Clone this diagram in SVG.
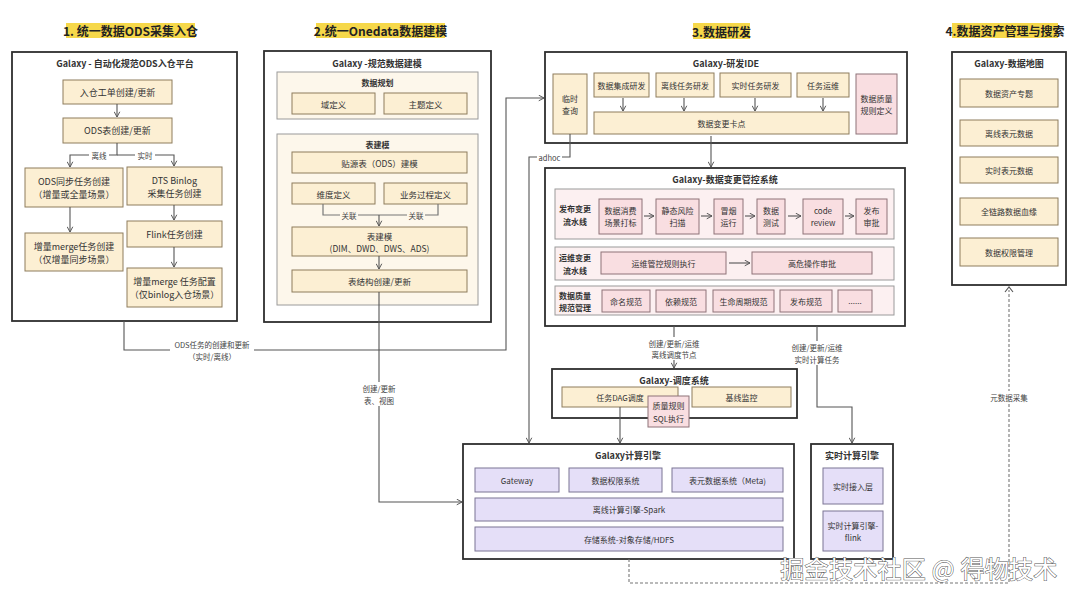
<svg xmlns="http://www.w3.org/2000/svg" width="1080" height="600" viewBox="0 0 1080 600">
<defs>
<marker id="ah" viewBox="0 0 10 10" refX="9" refY="5" markerWidth="7" markerHeight="7" orient="auto" markerUnits="userSpaceOnUse"><path d="M1.5,1 L9,5 L1.5,9" fill="none" stroke="#555" stroke-width="1.4"/></marker>
<style>
text{font-family:"Noto Sans CJK SC","Noto Sans",sans-serif;fill:#333;text-anchor:middle;dominant-baseline:central}
.hl{fill:#F6D84A}
.st{font-size:12px;font-weight:700;fill:#222}
.o{fill:#fff;stroke:#2e2e2e;stroke-width:1.8}
.y{fill:#FCEFD3;stroke:#8e7d5c;stroke-width:1}
.p{fill:#F9DEE1;stroke:#8e7378;stroke-width:1}
.l{fill:#E5DFF8;stroke:#7b7494;stroke-width:1}
.g{fill:#FDF7EB;stroke:#9a9a9a;stroke-width:1}
.pg{fill:#FCF0F1;stroke:#9a9a9a;stroke-width:1}
.c{fill:none;stroke:#777;stroke-width:1.2}
.a{fill:none;stroke:#555;stroke-width:1.1;marker-end:url(#ah)}
.d{fill:none;stroke:#777;stroke-width:1.1;stroke-dasharray:3 2}
.tt{font-size:9px;font-weight:700}
.gt{font-size:8px;font-weight:700}
.b9{font-size:9px}
.b8{font-size:8px}
.b85{font-size:8.5px}
.lb{font-size:7.5px;fill:#444}
.wb{fill:#fff}
</style>
</defs>

<g id="section1">
<rect class="hl" x="66" y="23" width="129" height="15"/>
<text class="st" x="130.5" y="30.5">1. 统一数据ODS采集入仓</text>
<rect class="o" x="12" y="52" width="225" height="269"/>
<text class="tt" x="125" y="63">Galaxy - 自动化规范ODS入仓平台</text>
<g id="n1-1"><rect class="y" x="63" y="80" width="109" height="24"/><text class="b9" x="117.5" y="92">入仓工单创建/更新</text></g>
<g id="n1-2"><rect class="y" x="63" y="118" width="109" height="25"/><text class="b9" x="117.5" y="130.5">ODS表创建/更新</text></g>
<g id="n1-3"><rect class="y" x="25" y="168" width="98" height="39"/><text class="b9" x="74" y="181.5">ODS同步任务创建</text><text class="b9" x="74" y="194.5">（增量或全量场景）</text></g>
<g id="n1-4"><rect class="y" x="127" y="167" width="95" height="38"/><text class="b9" x="174.5" y="180">DTS Binlog</text><text class="b9" x="174.5" y="193">采集任务创建</text></g>
<g id="n1-5"><rect class="y" x="25" y="233" width="98" height="38"/><text class="b9" x="74" y="246">增量merge任务创建</text><text class="b9" x="74" y="259">（仅增量同步场景）</text></g>
<g id="n1-6"><rect class="y" x="127" y="221" width="95" height="26"/><text class="b9" x="174.5" y="234">Flink任务创建</text></g>
<g id="n1-7"><rect class="y" x="127" y="268" width="95" height="39"/><text class="b9" x="174.5" y="281">增量merge 任务配置</text><text class="b9" x="174.5" y="294">（仅binlog入仓场景）</text></g>
</g>

<g id="section2">
<rect class="hl" x="316" y="23" width="129" height="15"/>
<text class="st" x="380.5" y="30.5">2.统一Onedata数据建模</text>
<rect class="o" x="264" y="51" width="227" height="271"/>
<text class="tt" x="377" y="63">Galaxy -规范数据建模</text>
<g id="grp-plan"><rect class="g" x="277" y="72" width="201" height="47"/><text class="gt" x="377.5" y="82">数据规划</text></g>
<g id="n2-1"><rect class="y" x="292" y="93" width="83" height="21"/><text class="b85" x="333.5" y="103.5">域定义</text></g>
<g id="n2-2"><rect class="y" x="384" y="93" width="83" height="21"/><text class="b85" x="425.5" y="103.5">主题定义</text></g>
<g id="grp-model"><rect class="g" x="277" y="134" width="201" height="171"/><text class="gt" x="377.5" y="144">表建模</text></g>
<g id="n2-3"><rect class="y" x="292" y="152" width="175" height="21"/><text class="b85" x="379.5" y="162.5">贴源表（ODS）建模</text></g>
<g id="n2-4"><rect class="y" x="292" y="183" width="83" height="21"/><text class="b85" x="333.5" y="193.5">维度定义</text></g>
<g id="n2-5"><rect class="y" x="384" y="183" width="83" height="21"/><text class="b85" x="425.5" y="193.5">业务过程定义</text></g>
<g id="n2-6"><rect class="y" x="292" y="227" width="175" height="29"/><text class="b85" x="379.5" y="236">表建模</text><text class="b85" x="379.5" y="248">(DIM、DWD、DWS、ADS)</text></g>
<g id="n2-7"><rect class="y" x="292" y="270" width="175" height="22"/><text class="b85" x="379.5" y="281">表结构创建/更新</text></g>
</g>

<g id="section3">
<rect class="hl" x="693" y="23" width="57" height="16"/>
<text class="st" x="721.5" y="31">3.数据研发</text>
<g id="ide">
<rect class="o" x="545" y="52" width="362" height="91"/>
<text class="tt" x="726" y="63">Galaxy-研发IDE</text>
<g id="n3-adhoc"><rect class="y" x="553" y="74" width="34" height="60"/><text class="b8" x="570" y="98">临时</text><text class="b8" x="570" y="110">查询</text></g>
<g id="n3-1"><rect class="y" x="594" y="73" width="55" height="24"/><text class="b8" x="621.5" y="85">数据集成研发</text></g>
<g id="n3-2"><rect class="y" x="656" y="73" width="58" height="24"/><text class="b8" x="685" y="85">离线任务研发</text></g>
<g id="n3-3"><rect class="y" x="720" y="73" width="71" height="24"/><text class="b8" x="755.5" y="85">实时任务研发</text></g>
<g id="n3-4"><rect class="y" x="797" y="73" width="52" height="24"/><text class="b8" x="823" y="85">任务运维</text></g>
<g id="n3-5"><rect class="y" x="594" y="112" width="255" height="22"/><text class="b8" x="721.5" y="123">数据变更卡点</text></g>
<g id="n3-6"><rect class="p" x="856" y="74" width="41" height="60"/><text class="b8" x="876.5" y="98">数据质量</text><text class="b8" x="876.5" y="110">规则定义</text></g>
</g>
<g id="change">
<rect class="o" x="545" y="168" width="360" height="158"/>
<text class="tt" x="725" y="179">Galaxy-数据变更管控系统</text>
<rect class="pg" x="555" y="189" width="339" height="50"/>
<text class="gt" x="575" y="208">发布变更</text><text class="gt" x="575" y="221">流水线</text>
<rect class="pg" x="555" y="247" width="339" height="33"/>
<text class="gt" x="575" y="257.5">运维变更</text><text class="gt" x="575" y="270">流水线</text>
<rect class="pg" x="555" y="286" width="339" height="29"/>
<text class="gt" x="575" y="295">数据质量</text><text class="gt" x="575" y="307">规范管理</text>
<g id="c1"><rect class="p" x="599" y="199" width="43" height="35"/><text class="b8" x="620.5" y="210.5">数据消费</text><text class="b8" x="620.5" y="222.5">场景打标</text></g>
<g id="c2"><rect class="p" x="656" y="199" width="43" height="35"/><text class="b8" x="677.5" y="210.5">静态风险</text><text class="b8" x="677.5" y="222.5">扫描</text></g>
<g id="c3"><rect class="p" x="714" y="199" width="29" height="35"/><text class="b8" x="728.5" y="210.5">冒烟</text><text class="b8" x="728.5" y="222.5">运行</text></g>
<g id="c4"><rect class="p" x="757" y="199" width="28" height="35"/><text class="b8" x="771" y="210.5">数据</text><text class="b8" x="771" y="222.5">测试</text></g>
<g id="c5"><rect class="p" x="803" y="199" width="40" height="35"/><text class="b8" x="823" y="210.5">code</text><text class="b8" x="823" y="222.5">review</text></g>
<g id="c6"><rect class="p" x="856" y="199" width="31" height="35"/><text class="b8" x="871.5" y="210.5">发布</text><text class="b8" x="871.5" y="222.5">审批</text></g>
<g id="c7"><rect class="p" x="601" y="252" width="125" height="22"/><text class="b8" x="663.5" y="263">运维管控规则执行</text></g>
<g id="c8"><rect class="p" x="752" y="252" width="120" height="22"/><text class="b8" x="812" y="263">高危操作审批</text></g>
<g id="c9"><rect class="p" x="602" y="290" width="48" height="22"/><text class="b8" x="626" y="301">命名规范</text></g>
<g id="c10"><rect class="p" x="656" y="290" width="50" height="22"/><text class="b8" x="681" y="301">依赖规范</text></g>
<g id="c11"><rect class="p" x="713" y="290" width="61" height="22"/><text class="b8" x="743.5" y="301">生命周期规范</text></g>
<g id="c12"><rect class="p" x="780" y="290" width="52" height="22"/><text class="b8" x="806" y="301">发布规范</text></g>
<g id="c13"><rect class="p" x="838" y="290" width="34" height="22"/><text class="b8" x="855" y="300">......</text></g>
</g>
<g id="sched">
<rect class="o" x="552" y="369" width="245" height="49"/>
<text class="tt" x="674" y="380">Galaxy-调度系统</text>
<g id="s1"><rect class="y" x="562" y="387" width="116" height="20"/><text class="b8" x="620" y="397">任务DAG调度</text></g>
<g id="s2"><rect class="y" x="692" y="387" width="99" height="20"/><text class="b8" x="741.5" y="397">基线监控</text></g>
<g id="s3"><rect class="p" x="648" y="396" width="41" height="31"/><text class="b8" x="668.5" y="405.5">质量规则</text><text class="b8" x="668.5" y="418">SQL执行</text></g>
</g>
<g id="engine">
<rect class="o" x="463" y="444" width="331" height="115"/>
<text class="tt" x="628" y="455">Galaxy计算引擎</text>
<g id="e1"><rect class="l" x="475" y="468" width="84" height="24"/><text class="b8" x="517" y="480">Gateway</text></g>
<g id="e2"><rect class="l" x="569" y="468" width="93" height="24"/><text class="b8" x="615.5" y="480">数据权限系统</text></g>
<g id="e3"><rect class="l" x="672" y="468" width="111" height="24"/><text class="b8" x="727.5" y="480">表元数据系统（Meta)</text></g>
<g id="e4"><rect class="l" x="475" y="498" width="308" height="23"/><text class="b8" x="629" y="509.5">离线计算引擎-Spark</text></g>
<g id="e5"><rect class="l" x="475" y="527" width="308" height="24"/><text class="b8" x="629" y="539">存储系统-对象存储/HDFS</text></g>
</g>
<g id="realtime">
<rect class="o" x="811" y="444" width="82" height="115"/>
<text class="tt" x="852" y="455">实时计算引擎</text>
<g id="r1"><rect class="l" x="823" y="468" width="60" height="36"/><text class="b8" x="853" y="486">实时接入层</text></g>
<g id="r2"><rect class="l" x="823" y="511" width="60" height="40"/><text class="b8" x="853" y="525">实时计算引擎-</text><text class="b8" x="853" y="537.5">flink</text></g>
</g>
</g>

<g id="section4">
<rect class="hl" x="952" y="23" width="106" height="15"/>
<text class="st" x="1005" y="30.5">4.数据资产管理与搜索</text>
<rect class="o" x="952" y="52" width="114" height="233"/>
<text class="tt" x="1009" y="63">Galaxy-数据地图</text>
<g id="m1"><rect class="y" x="960" y="79" width="98" height="28"/><text class="b8" x="1009" y="93">数据资产专题</text></g>
<g id="m2"><rect class="y" x="960" y="120" width="98" height="26"/><text class="b8" x="1009" y="133">离线表元数据</text></g>
<g id="m3"><rect class="y" x="960" y="157" width="98" height="26"/><text class="b8" x="1009" y="170">实时表元数据</text></g>
<g id="m4"><rect class="y" x="960" y="198" width="98" height="27"/><text class="b8" x="1009" y="211.5">全链路数据血缘</text></g>
<g id="m5"><rect class="y" x="960" y="238" width="98" height="28"/><text class="b8" x="1009" y="252">数据权限管理</text></g>
</g>

<g id="connectors">
<!-- section 1 -->
<path class="a" d="M117,104 V117"/>
<path class="a" d="M117,143 V155 H70 V167"/>
<path class="a" d="M117,155 H174 V166"/>
<path class="a" d="M70,207 V232"/>
<path class="a" d="M174,205 V220"/>
<path class="a" d="M174,247 V267"/>
<rect class="wb" x="89" y="150" width="20" height="10"/><text class="lb" x="99" y="155">离线</text>
<rect class="wb" x="135" y="150" width="20" height="10"/><text class="lb" x="145" y="155">实时</text>
<!-- section 2 -->
<path class="c" d="M323,204 V215 H438 V204"/>
<path class="a" d="M379,215 V226"/>
<rect fill="#FDF7EB" x="340" y="210" width="18" height="10"/><text class="lb" x="349" y="215">关联</text>
<rect fill="#FDF7EB" x="407" y="210" width="18" height="10"/><text class="lb" x="416" y="215">关联</text>
<path class="a" d="M379,256 V269"/>
<path class="a" d="M379,292 V502 H462"/>
<rect class="wb" x="361" y="382" width="36" height="24"/>
<text class="lb" x="379" y="388.5">创建/更新</text><text class="lb" x="379" y="400">表、视图</text>
<!-- ODS to IDE -->
<path class="a" d="M124,321 V350 H506 V98 H544"/>
<rect class="wb" x="170" y="338" width="84" height="24"/>
<text class="lb" x="212" y="344.5">ODS任务的创建和更新</text><text class="lb" x="212" y="356">（实时/离线）</text>
<!-- IDE internal -->
<path class="a" d="M623,98 V111"/>
<path class="a" d="M684,98 V111"/>
<path class="a" d="M755,98 V111"/>
<path class="a" d="M823,98 V111"/>
<path class="a" d="M711,136 V167"/>
<!-- adhoc -->
<path class="a" d="M570,134 V157 H529 V443"/>
<rect class="wb" x="537" y="151" width="25" height="12"/><text class="lb" x="549.5" y="157">adhoc</text>
<!-- change pipeline arrows -->
<path class="a" d="M644,216 V216 H654"/>
<path class="a" d="M701,216 H712"/>
<path class="a" d="M745,216 H755"/>
<path class="a" d="M788,216 H801"/>
<path class="a" d="M845,216 H854"/>
<path class="a" d="M729,263 H750"/>
<!-- change to scheduling / realtime -->
<path class="a" d="M674,326 V368"/>
<rect class="wb" x="646" y="337" width="56" height="23"/>
<text class="lb" x="674" y="343">创建/更新/运维</text><text class="lb" x="674" y="354">离线调度节点</text>
<path class="a" d="M817,326 V407 H852 V443"/>
<rect class="wb" x="789" y="341" width="56" height="24"/>
<text class="lb" x="817" y="347.5">创建/更新/运维</text><text class="lb" x="817" y="359">实时计算任务</text>
<!-- scheduling to engine -->
<path class="a" d="M620,407 V443"/>
<!-- metadata collection -->
<path class="d" d="M629,559 V583 H1009 V290"/>
<path d="M1005,292 L1009,287 L1013,292" fill="none" stroke="#555" stroke-width="1.1"/>
<rect class="wb" x="986" y="391" width="46" height="12"/><text class="lb" x="1009" y="397">元数据采集</text>
</g>

<text x="919" y="567" style="font-size:24px;fill:#fff;stroke:#555;stroke-width:1;paint-order:stroke;letter-spacing:0.3px">掘金技术社区 @ 得物技术</text>
</svg>
